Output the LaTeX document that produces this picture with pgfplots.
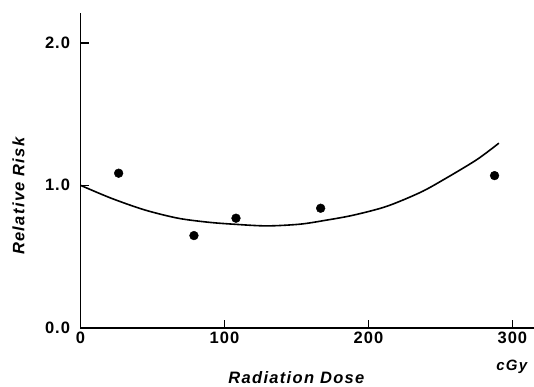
\documentclass[border=0pt]{standalone}
\usepackage{pgfplots}
\pgfplotsset{compat=1.18}
\usepackage{fontspec}
\setmainfont{Liberation Sans}
\newfontfamily\tickfont[LetterSpace=6]{Liberation Sans}
\newfontfamily\labfont[LetterSpace=8]{Liberation Sans}
\begin{document}
\begin{tikzpicture}
\begin{axis}[
  scale only axis,
  width=453.5pt, height=314.7pt,
  xmin=0, xmax=315, ymin=0, ymax=2.21,
  axis lines*=left,
  axis line style={line width=1.6pt},
  tick align=inside,
  major tick length=8pt,
  tick style={line width=1.4pt, black},
  xtick={0,100,200,300},
  ytick={0,1,2},
  /pgf/number format/assume math mode=true,
  yticklabel={\pgfmathprintnumber[fixed,fixed zerofill,precision=1]{\tick}},
  ticklabel style={font=\tickfont\fontsize{16.5}{18}\selectfont\bfseries},
  xticklabel style={yshift=-1pt},
  yticklabel style={xshift=-7pt},
  xlabel={\labfont\fontsize{16.5}{19}\selectfont\bfseries\itshape Radiation Dose},
  xlabel style={at={(axis description cs:0.476,-0.158)},anchor=center},
  ylabel={\labfont\fontsize{16.5}{19}\selectfont\bfseries\itshape Relative Risk},
  ylabel style={at={(axis description cs:-0.137,0.418)},anchor=center},
  clip=false,
]
\addplot[only marks, mark=*, mark size=4.4pt, black] coordinates {
  (26.5,1.085) (78.8,0.647) (108,0.769) (166.8,0.839) (287.6,1.068)
};
\addplot[smooth, line width=1.6pt, black, mark=none] coordinates {
  (0,1.0) (21.4,0.909) (44.6,0.827) (67.7,0.769) (88.5,0.741) (106.1,0.727)
  (129.3,0.715) (152.4,0.727) (170,0.754) (189.4,0.790) (212.6,0.852)
  (235.8,0.949) (251.9,1.038) (275.1,1.179) (290.6,1.296)
};
\node[anchor=center, font=\labfont\fontsize{15}{17}\selectfont\bfseries\itshape] at (axis description cs:0.951,-0.125) {cGy};
\end{axis}
\pgfresetboundingbox
\useasboundingbox (-80.5pt,-58.3pt) rectangle (453.5pt,327.7pt);
\end{tikzpicture}
\end{document}
